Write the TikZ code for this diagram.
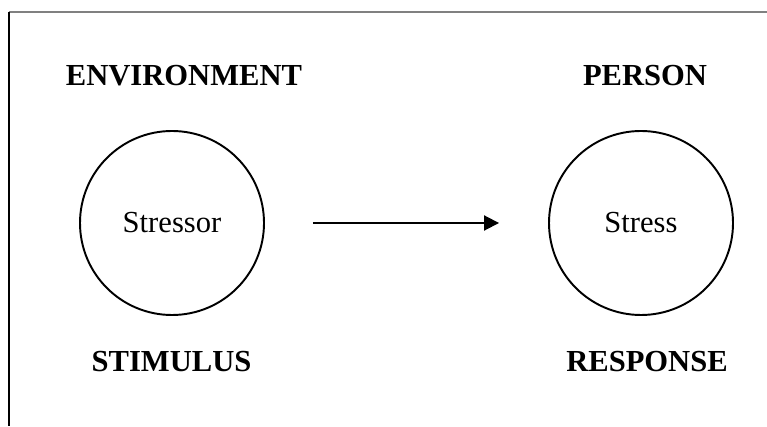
\documentclass[tikz,border=0pt]{standalone}
\usepackage{fontspec}
\setmainfont{Liberation Serif}
\usetikzlibrary{arrows.meta}

\begin{document}
\begin{tikzpicture}[
  every node/.style={font=\fontsize{17.4}{20}\selectfont},
  blob/.style={draw, circle, line width=1.1pt, minimum size=3.68cm, inner sep=0pt},
  heading/.style={font=\fontsize{17.4}{20}\selectfont\bfseries, inner sep=0pt}]

\useasboundingbox (0,0) rectangle (15.34,8.52);

% Frame: top and left edges only
\draw[gray, line width=0.6pt] (0.18,8.28) -- (15.34,8.28);
\draw[line width=0.6pt] (0.18,8.28) -- (0.18,0);

% The two circles
\node[blob] (stressor) at (3.44,4.06) {Stressor};
\node[blob] (stress)   at (12.82,4.06) {Stress};

% Labels above
\node[heading] (env)    at (3.68,7.00) {ENVIRONMENT};
\node[heading] (person) at (12.90,7.00) {PERSON};

% Labels below
\node[heading] (stimulus) at (3.43,1.28) {STIMULUS};
\node[heading] (response) at (12.94,1.28) {RESPONSE};

% Stressor leads to stress
\draw[line width=1.1pt, -{Triangle[length=0.3cm, width=0.3cm]},
      shorten <=0.96cm, shorten >=0.98cm] (stressor) -- (stress);

\end{tikzpicture}
\end{document}
